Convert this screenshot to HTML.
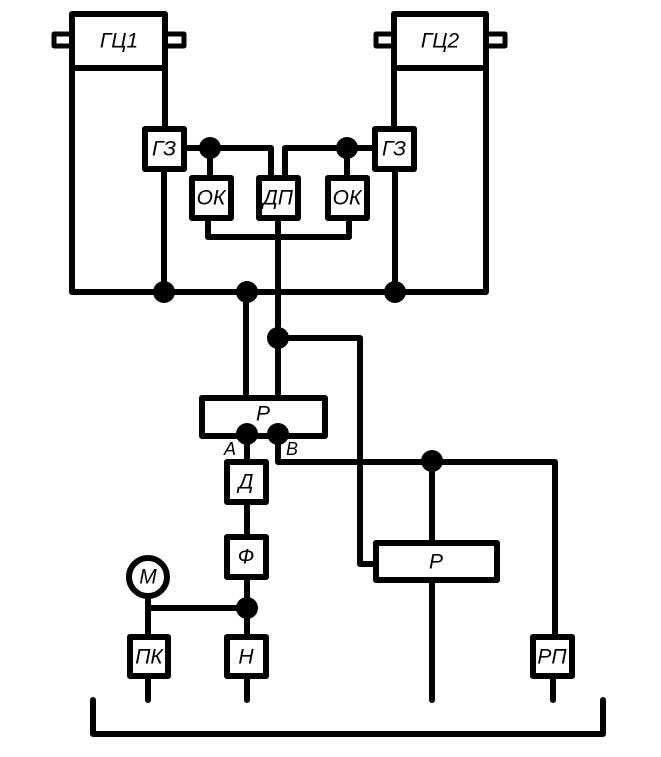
<!DOCTYPE html>
<html><head><meta charset="utf-8"><style>html,body{margin:0;padding:0;background:#fff}svg{display:block}text{font-family:"Liberation Sans",sans-serif;font-style:italic;font-size:21px;text-anchor:middle;dominant-baseline:central}</style></head><body>
<svg width="661" height="757" viewBox="0 0 661 757" xmlns="http://www.w3.org/2000/svg">
<g fill="none" stroke="#000" stroke-width="6" stroke-linejoin="round" stroke-linecap="round">
<!-- GC1 -->
<rect x="72" y="14" width="93" height="54"/>
<rect x="54" y="34" width="18" height="12" stroke-width="5"/>
<rect x="165" y="34" width="19" height="12" stroke-width="5"/>
<!-- GC2 -->
<rect x="394" y="14" width="92" height="54"/>
<rect x="376" y="34" width="18" height="12" stroke-width="5"/>
<rect x="486" y="34" width="19" height="12" stroke-width="5"/>
<!-- outer frame -->
<path d="M72 68 V292 H486 V68"/>
<path d="M165 68 V128"/><path d="M394 68 V128"/>
<path d="M164 170 V292"/><path d="M395 170 V292"/>
<!-- GZ boxes -->
<rect x="145" y="129" width="39" height="40"/>
<rect x="375" y="129" width="39" height="40"/>
<!-- OK, DP -->
<rect x="192" y="178" width="39" height="40"/>
<rect x="259" y="178" width="39" height="40"/>
<rect x="328" y="178" width="39" height="40"/>
<path d="M184 148 H271 V178"/>
<path d="M375 148 H285 V178"/>
<path d="M210 148 V178"/><path d="M347 148 V178"/>
<path d="M208 218 V237 H349 V218"/>
<path d="M278 218 V398"/>
<path d="M246 292 V398"/>
<path d="M278 338 H360 V564 H376"/>
<!-- P1 -->
<rect x="202" y="398" width="123" height="38"/>
<path d="M247 434 V462"/>
<path d="M278 434 V462 H555 V636"/>
<rect x="227" y="462" width="39" height="40"/>
<path d="M247 502 V537"/>
<rect x="227" y="537" width="39" height="40"/>
<path d="M247 577 V636"/>
<path d="M148 597 V636"/><path d="M148 608 H247"/>
<circle cx="148" cy="577" r="19"/>
<rect x="130" y="637" width="38" height="39"/>
<rect x="227" y="637" width="39" height="39"/>
<rect x="533" y="637" width="39" height="39"/>
<path d="M148 676 V700"/><path d="M247 676 V700"/><path d="M553 676 V700"/>
<!-- P2 -->
<path d="M432 462 V543"/>
<rect x="376" y="543" width="121" height="37"/>
<path d="M432 580 V700"/>
<!-- bracket -->
<path d="M93 700 V734 H603 V700"/>
</g>
<g fill="#000">
<circle cx="210" cy="148" r="11"/><circle cx="347" cy="148" r="11"/>
<circle cx="164" cy="292" r="11"/><circle cx="247" cy="292" r="11"/><circle cx="395" cy="292" r="11"/>
<circle cx="278" cy="338" r="11"/>
<circle cx="247" cy="434" r="11"/><circle cx="278" cy="434" r="11"/>
<circle cx="432" cy="461" r="11"/>
<circle cx="247" cy="608" r="11"/>
</g>
<text x="119" y="41">ГЦ1</text>
<text x="440" y="41">ГЦ2</text>
<text x="164" y="149">ГЗ</text>
<text x="394" y="149">ГЗ</text>
<text x="211" y="198">ОК</text>
<text x="278" y="198">ДП</text>
<text x="347" y="198">ОК</text>
<text x="263" y="414">Р</text>
<text x="230" y="449" style="font-size:18px">А</text>
<text x="292" y="449" style="font-size:18px">В</text>
<text x="246" y="482">Д</text>
<text x="246" y="557">Ф</text>
<text x="148" y="577">М</text>
<text x="149" y="657">ПК</text>
<text x="246" y="657">Н</text>
<text x="552" y="657">РП</text>
<text x="436" y="562">Р</text>
</svg>
</body></html>
